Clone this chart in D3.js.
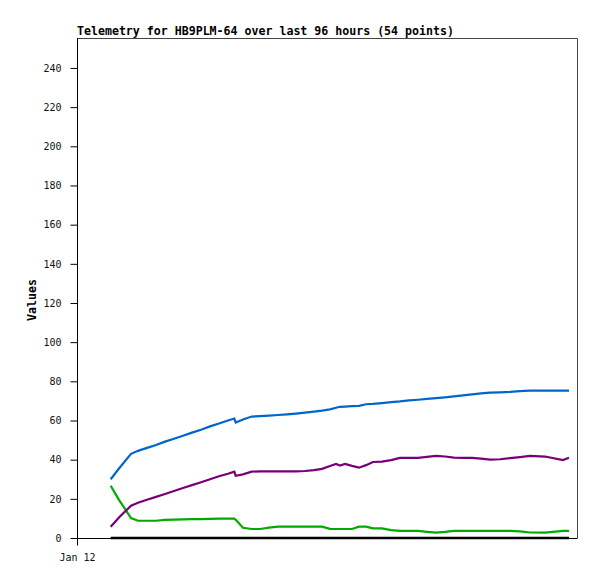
<!DOCTYPE html>
<html>
<head>
<meta charset="utf-8">
<script src="https://cdn.jsdelivr.net/npm/d3@7"></script>
<style>
  html, body { margin: 0; padding: 0; background: #fff; }
  svg { display: block; }
</style>
</head>
<body>
<svg id="chart" width="597" height="579"></svg>
<script>
// ---- data (hours since Jan 12 00:00) ----
const hoursSinceStart = [6.47, 8.06, 10.37, 11.71, 13.44, 15.17, 16.90, 18.62, 20.35, 22.08,
  23.81, 25.54, 27.26, 28.99, 30.20, 30.47, 31.87, 33.54, 35.14, 36.86,
  38.59, 40.32, 42.05, 43.78, 45.50, 47.04, 48.58, 49.73, 50.50, 51.46,
  52.80, 54.14, 55.49, 56.83, 58.56, 60.29, 62.02, 63.74, 65.47, 67.20,
  68.93, 70.66, 72.38, 74.11, 75.84, 77.57, 79.30, 81.22, 83.14, 85.06,
  86.98, 89.86, 93.31, 94.46];

const blueSeries = [30, 35.5, 43, 44.5, 46, 47.5, 49.2, 50.7, 52.2, 53.8,
  55.3, 57, 58.5, 60, 61, 59, 60.5, 62, 62.2, 62.5,
  62.8, 63.1, 63.5, 64, 64.5, 65, 65.7, 66.5, 67, 67.1,
  67.3, 67.5, 68.3, 68.5, 68.9, 69.4, 69.8, 70.3, 70.6, 71,
  71.4, 71.8, 72.3, 72.8, 73.3, 73.8, 74.2, 74.4, 74.6, 75,
  75.2, 75.3, 75.3, 75.3];

const purpleSeries = [5.8, 10.5, 16.5, 18, 19.5, 21, 22.5, 24, 25.5, 27,
  28.5, 30, 31.5, 32.8, 33.9, 31.8, 32.5, 33.9, 34, 34,
  34, 34, 34, 34.2, 34.7, 35.3, 36.8, 37.8, 37, 37.8,
  36.8, 35.9, 37.2, 38.8, 39, 39.8, 40.9, 40.9, 40.9, 41.4,
  41.9, 41.6, 41, 40.9, 40.9, 40.5, 40, 40.2, 40.8, 41.3,
  41.9, 41.6, 39.8, 41];

const greenSeries = [26.7, 19.5, 10.2, 8.8, 8.8, 8.8, 9.3, 9.4, 9.5, 9.6,
  9.6, 9.8, 9.9, 9.9, 9.9, 9.3, 5.2, 4.6, 4.6, 5.3,
  5.8, 5.8, 5.8, 5.8, 5.8, 5.8, 4.7, 4.6, 4.6, 4.6,
  4.6, 5.8, 5.8, 4.9, 4.9, 4.0, 3.6, 3.6, 3.6, 3.1,
  2.7, 3.1, 3.6, 3.6, 3.6, 3.6, 3.6, 3.6, 3.6, 3.4,
  2.8, 2.7, 3.6, 3.6];

const blackSeries = hoursSinceStart.map(() => 0);

const yTicks = [0, 20, 40, 60, 80, 100, 120, 140, 160, 180, 200, 220, 240];
const yMax = 255.3;
const xTickLabels = ["Jan 12"];
const titleText = "Telemetry for HB9PLM-64 over last 96 hours (54 points)";
const yLabel = "Values";

const seriesList = [
  { name: "black",  values: blackSeries,  color: "#000000", width: 2.6 },
  { name: "green",  values: greenSeries,  color: "#00aa00", width: 2.2 },
  { name: "purple", values: purpleSeries, color: "#770077", width: 2.2 },
  { name: "blue",   values: blueSeries,   color: "#0066cc", width: 2.2 }
];

// ---- layout ----
const svg = d3.select("#chart");
const mLeft = 77, mRight = 577, mTop = 38, mBottom = 538;
const start = new Date(2024, 0, 12, 0, 0);
const end = new Date(2024, 0, 16, 0, 0);
const times = hoursSinceStart.map(h => new Date(start.getTime() + h * 3600e3));

const x = d3.scaleTime().domain([start, end]).range([mLeft, mRight]);
const y = d3.scaleLinear().domain([0, yMax]).range([mBottom, mTop]);

const mono = "'DejaVu Sans Mono', 'Liberation Mono', monospace";

// frame (top & right)
svg.append("path")
  .attr("d", `M${mLeft},${mTop + 0.5}H${mRight + 0.5}V${mBottom}`)
  .attr("fill", "none").attr("stroke", "#444").attr("stroke-width", 1);

// y axis
const yAxis = d3.axisLeft(y).tickValues(yTicks).tickSize(7).tickPadding(9);
const gy = svg.append("g").attr("transform", `translate(${mLeft + 0.5},0)`).call(yAxis);
gy.select(".domain").remove();
gy.selectAll("text").attr("font-family", mono).attr("font-size", "10px").attr("fill", "#111");
gy.selectAll("line").attr("stroke", "#000");
svg.append("line").attr("x1", mLeft + 0.5).attr("x2", mLeft + 0.5)
  .attr("y1", mTop).attr("y2", mBottom + 7).attr("stroke", "#000");

// x axis
const xAxis = d3.axisBottom(x).tickValues([start]).tickFormat((d, i) => xTickLabels[i]).tickSize(7).tickPadding(8);
const gx = svg.append("g").attr("transform", `translate(0,${mBottom + 0.5})`).call(xAxis);
gx.select(".domain").remove();
gx.selectAll("text").attr("font-family", mono).attr("font-size", "10px").attr("fill", "#111");
gx.selectAll("line").attr("stroke", "#000");
svg.append("line").attr("x1", mLeft).attr("x2", mRight + 0.5)
  .attr("y1", mBottom + 0.5).attr("y2", mBottom + 0.5).attr("stroke", "#000");

// lines
const lineGen = d3.line().x((d, i) => x(times[i])).y(d => y(d));
seriesList.forEach(s => {
  svg.append("path")
    .datum(s.values)
    .attr("d", lineGen)
    .attr("fill", "none")
    .attr("stroke", s.color)
    .attr("stroke-width", s.width)
    .attr("stroke-linejoin", "miter");
});

// title
svg.append("text").attr("x", mLeft).attr("y", 35)
  .attr("font-family", mono).attr("font-weight", "bold").attr("font-size", "11.6px")
  .attr("fill", "#000").text(titleText);

// y label
svg.append("text")
  .attr("transform", `translate(36,${(mTop + mBottom) / 2 + 12}) rotate(-90)`)
  .attr("text-anchor", "middle")
  .attr("font-family", mono).attr("font-weight", "bold").attr("font-size", "11.6px")
  .attr("fill", "#000").text(yLabel);
</script>
</body>
</html>
